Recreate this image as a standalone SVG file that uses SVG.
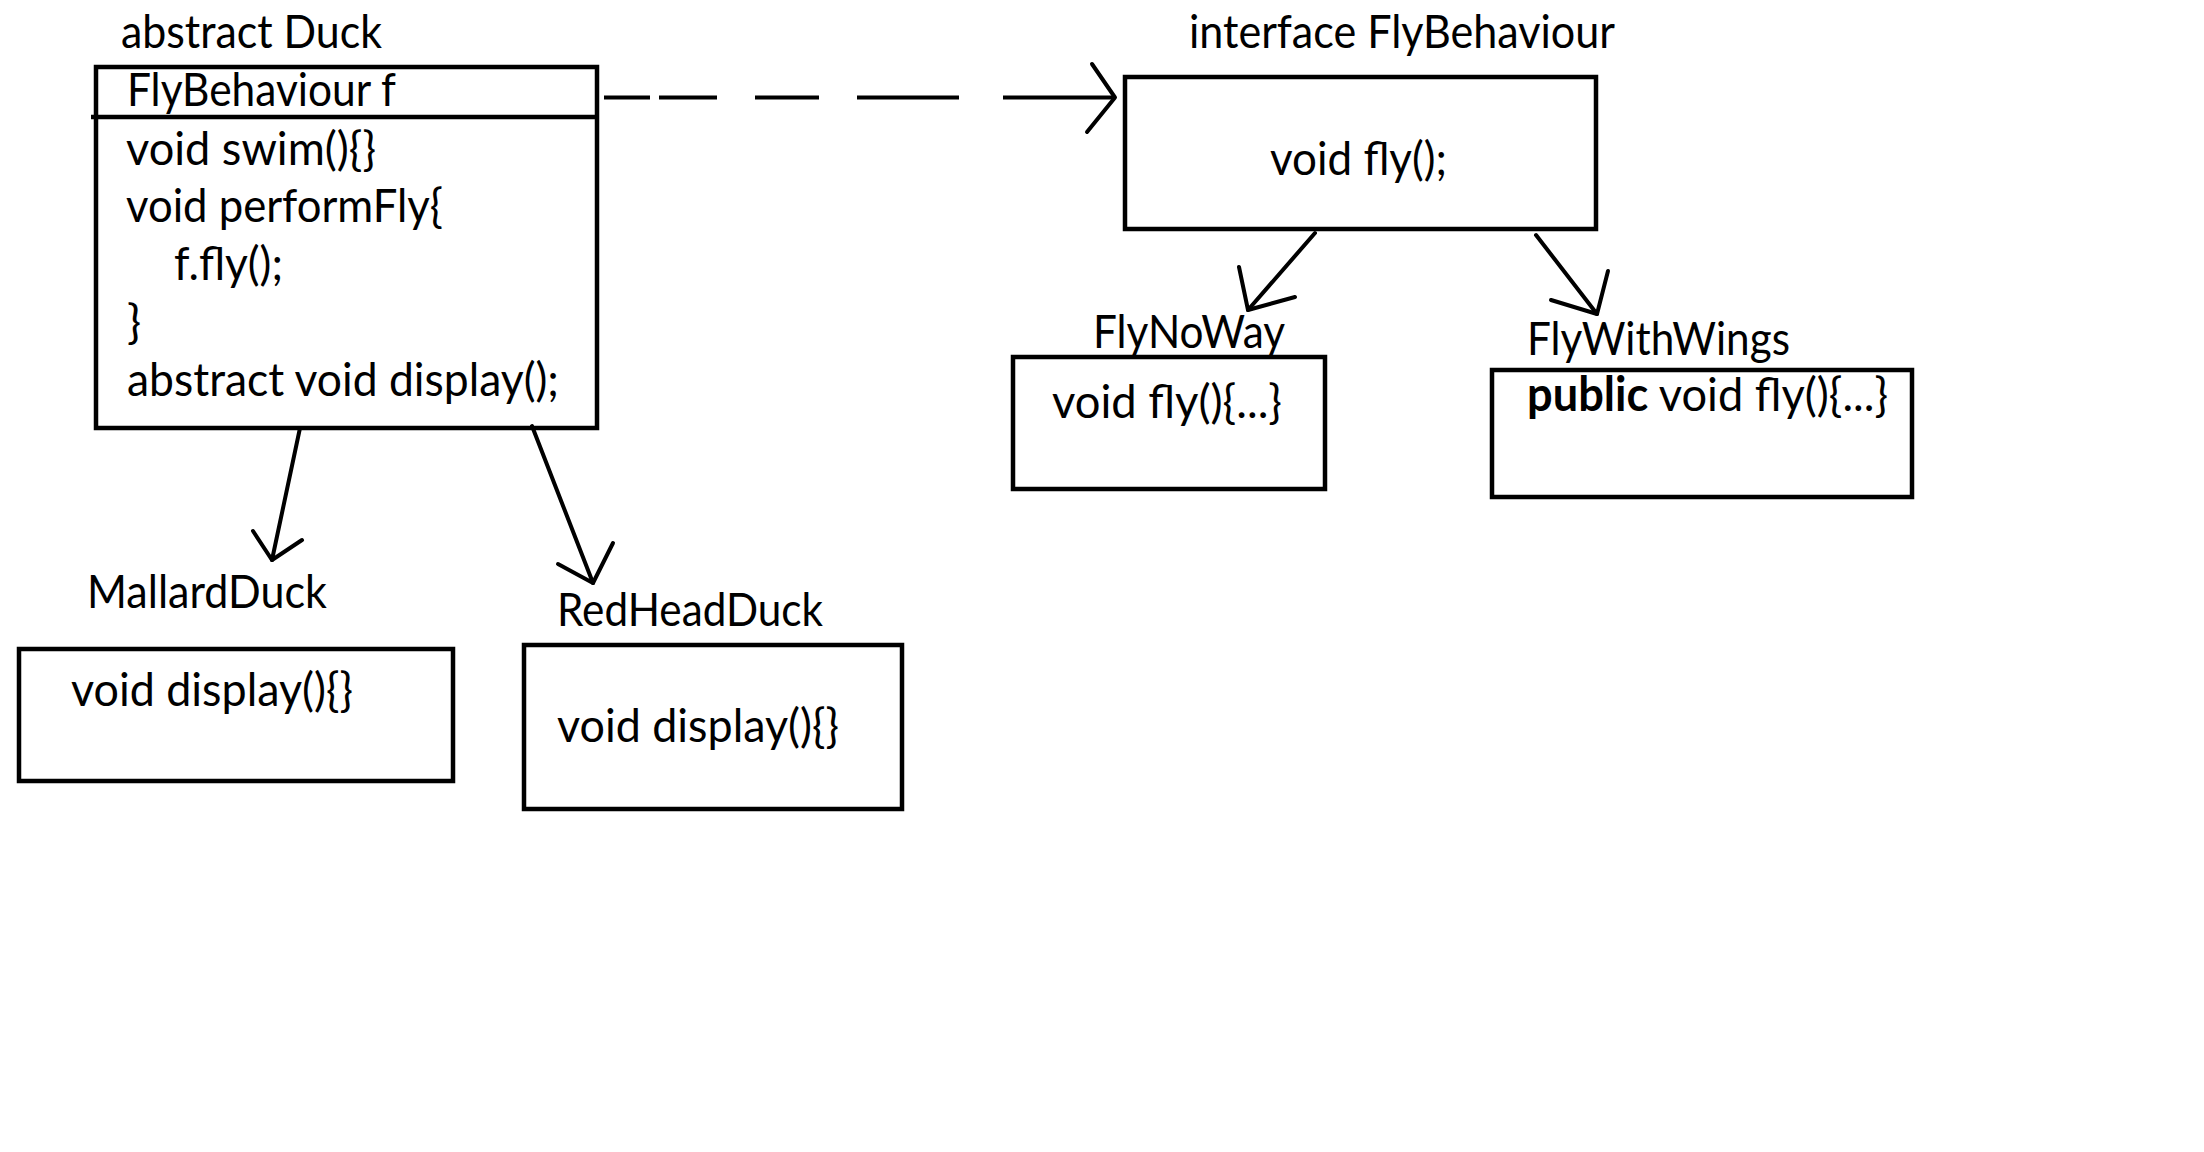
<svg xmlns="http://www.w3.org/2000/svg" width="2204" height="1152" viewBox="0 0 2204 1152">
<style>
  .bg { fill: #ffffff; }
  .box { fill: none; stroke: #000; stroke-width: 4.5; }
  .ln { fill: none; stroke: #000; stroke-width: 4; stroke-linecap: round; stroke-linejoin: round; }
  .dash { fill: none; stroke: #000; stroke-width: 4; }
  text { font-family: Lato, "Open Sans", "Liberation Sans", sans-serif; font-size: 47px; fill: #000; }
  .b { font-weight: bold; }
</style>
<rect class="bg" x="0" y="0" width="2204" height="1152"/>

<g id="duck">
  <text x="121" y="48" textLength="261" lengthAdjust="spacingAndGlyphs">abstract Duck</text>
  <rect class="box" x="96" y="67" width="501" height="361"/>
  <line class="box" x1="91" y1="117" x2="599" y2="117"/>
  <text x="127" y="106" textLength="269" lengthAdjust="spacingAndGlyphs">FlyBehaviour f</text>
  <text x="126" y="165" textLength="250" lengthAdjust="spacingAndGlyphs">void swim(){}</text>
  <text x="126" y="222" textLength="317" lengthAdjust="spacingAndGlyphs">void performFly{</text>
  <text x="174" y="280" textLength="109" lengthAdjust="spacingAndGlyphs">f.fly();</text>
  <text x="127" y="338">}</text>
  <text x="127" y="396" textLength="432" lengthAdjust="spacingAndGlyphs">abstract void display();</text>
</g>

<g id="flybehaviour">
  <text x="1189" y="48" textLength="426" lengthAdjust="spacingAndGlyphs">interface FlyBehaviour</text>
  <rect class="box" x="1125" y="77" width="471" height="152"/>
  <text x="1270" y="175" textLength="177" lengthAdjust="spacingAndGlyphs">void fly();</text>
</g>

<g id="flynoway">
  <text x="1093" y="348" textLength="192" lengthAdjust="spacingAndGlyphs">FlyNoWay</text>
  <rect class="box" x="1013" y="357" width="312" height="132"/>
  <text x="1052" y="418" textLength="230" lengthAdjust="spacingAndGlyphs">void fly(){...}</text>
</g>

<g id="flywithwings">
  <text x="1527" y="355" textLength="263" lengthAdjust="spacingAndGlyphs">FlyWithWings</text>
  <rect class="box" x="1492" y="370" width="420" height="127"/>
  <text x="1527" y="411" textLength="361" lengthAdjust="spacingAndGlyphs"><tspan class="b">public</tspan> void fly(){...}</text>
</g>

<g id="mallardduck">
  <text x="87" y="608" textLength="240" lengthAdjust="spacingAndGlyphs">MallardDuck</text>
  <rect class="box" x="19" y="649" width="434" height="132"/>
  <text x="71" y="706" textLength="282" lengthAdjust="spacingAndGlyphs">void display(){}</text>
</g>

<g id="redheadduck">
  <text x="557" y="626" textLength="266" lengthAdjust="spacingAndGlyphs">RedHeadDuck</text>
  <rect class="box" x="524" y="645" width="378" height="164"/>
  <text x="557" y="742" textLength="282" lengthAdjust="spacingAndGlyphs">void display(){}</text>
</g>

<g id="connectors">
  <!-- Duck -> FlyBehaviour (dashed) -->
  <line class="dash" x1="604" y1="97.5" x2="650" y2="97.5"/>
  <line class="dash" x1="659" y1="97.5" x2="717" y2="97.5"/>
  <line class="dash" x1="755" y1="97.5" x2="819" y2="97.5"/>
  <line class="dash" x1="857" y1="97.5" x2="959" y2="97.5"/>
  <line class="dash" x1="1003" y1="97.5" x2="1115" y2="97.5"/>
  <polyline class="ln" points="1092,64 1115,97.5 1087,132"/>
  <!-- FlyBehaviour -> FlyNoWay -->
  <line class="ln" x1="1315" y1="233" x2="1248" y2="310"/>
  <polyline class="ln" points="1239,267 1248,310 1295,297"/>
  <!-- FlyBehaviour -> FlyWithWings -->
  <line class="ln" x1="1536" y1="235" x2="1597" y2="314"/>
  <polyline class="ln" points="1608,271 1597,314 1551,300"/>
  <!-- Duck -> MallardDuck -->
  <line class="ln" x1="300" y1="428" x2="272" y2="560"/>
  <polyline class="ln" points="253,531 272,560 302,540"/>
  <!-- Duck -> RedHeadDuck -->
  <line class="ln" x1="532" y1="426" x2="593" y2="583"/>
  <polyline class="ln" points="613,543 593,583 558,564"/>
</g>
</svg>
